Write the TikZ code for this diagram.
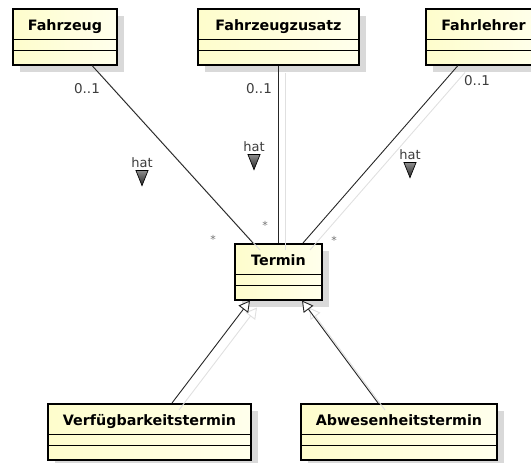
\documentclass[tikz,border=0pt]{standalone}
\usepackage{fontspec}
\setmainfont{DejaVu Sans}
\usetikzlibrary{arrows.meta,shadows,shapes.geometric,positioning}

\definecolor{clsL}{RGB}{254,253,204}
\definecolor{clsR}{RGB}{255,255,236}
\definecolor{lbl}{RGB}{60,60,60}

\begin{document}
\begin{tikzpicture}[
    x=1pt, y=-1pt,
    umlclass/.style={draw, line width=1.5pt, left color=clsL, right color=clsR,
                     anchor=north, inner xsep=0pt, inner ysep=0pt,
                     text height=22pt, text depth=34pt, minimum height=56pt,
                     font=\fontsize{14.3}{17}\selectfont\bfseries,
                     drop shadow={shadow xshift=7pt, shadow yshift=-7pt,
                                  fill=black!15, opacity=1},
                     path picture={
                       \draw[line width=0.9pt]
                         ([yshift=-31pt]path picture bounding box.north west) --
                         ([yshift=-31pt]path picture bounding box.north east)
                         ([yshift=-42pt]path picture bounding box.north west) --
                         ([yshift=-42pt]path picture bounding box.north east);
                     }},
    assoc/.style={draw=black!85, line width=0.9pt,
                  preaction={draw=black!12, line width=0.9pt,
                             transform canvas={shift={(7pt,-7pt)}}}},
    gen/.style={assoc, -{Triangle[fill=white, length=11pt, width=12pt]}},
    mult/.style={font=\fontsize{13.5}{15}\selectfont, text=lbl, inner sep=1pt},
    star/.style={font=\fontsize{11}{12}\selectfont, text=black!55, inner sep=1pt},
    hatlbl/.style={font=\fontsize{13}{15}\selectfont, text=lbl, inner sep=1pt},
    hatdir/.style={isosceles triangle, isosceles triangle stretches,
                   shape border rotate=-90, minimum width=12pt,
                   minimum height=15pt, inner sep=0pt,
                   draw=black, line width=0.7pt, top color=black!45,
                   bottom color=black!85},
  ]
  \useasboundingbox (0,0) rectangle (531,463);

  %% ================================================================
  %% Classes
  %% ================================================================
  \node[umlclass, minimum width=104pt] (fz)  at (65, 8)    {Fahrzeug};
  \node[umlclass, minimum width=161pt] (fzz) at (278.5, 8) {Fahrzeugzusatz};
  \node[umlclass, minimum width=115pt] (fl)  at (483.5, 8) {Fahrlehrer};

  \node[umlclass, minimum width=87pt]  (tm)  at (278.5, 243) {Termin};

  \node[umlclass, minimum width=203pt] (vt)  at (149.5, 403) {Verfügbarkeitstermin};
  \node[umlclass, minimum width=196pt] (at)  at (399, 403)   {Abwesenheitstermin};

  %% ================================================================
  %% Associations "hat"
  %% ================================================================
  \draw[assoc] ([xshift=27pt]fz.south)   -- ([xshift=-25.5pt]tm.north);
  \draw[assoc] (fzz.south)               -- (tm.north);
  \draw[assoc] ([xshift=-25.5pt]fl.south) -- ([xshift=24.5pt]tm.north);

  \node[mult] (m1) at (87, 89)  {0..1};
  \node[mult] (m2) at (259, 89) {0..1};
  \node[mult] (m3) at (477, 81) {0..1};

  \node[star] (s1) at (213, 239) {*};
  \node[star] (s2) at (265, 225) {*};
  \node[star] (s3) at (334, 240) {*};

  \node[hatlbl] (h1) at (142, 163) {hat};
  \node[hatdir, below=1pt of h1] (h1d) {};
  \node[hatlbl] (h2) at (254, 147) {hat};
  \node[hatdir, below=1pt of h2] (h2d) {};
  \node[hatlbl] (h3) at (410, 155) {hat};
  \node[hatdir, below=1pt of h3] (h3d) {};

  %% ================================================================
  %% Generalisations
  %% ================================================================
  \draw[gen] ([xshift=22.5pt]vt.north) -- ([xshift=-28.5pt]tm.south);
  \draw[gen] ([xshift=-21pt]at.north)  -- ([xshift=23.5pt]tm.south);

\end{tikzpicture}
\end{document}
